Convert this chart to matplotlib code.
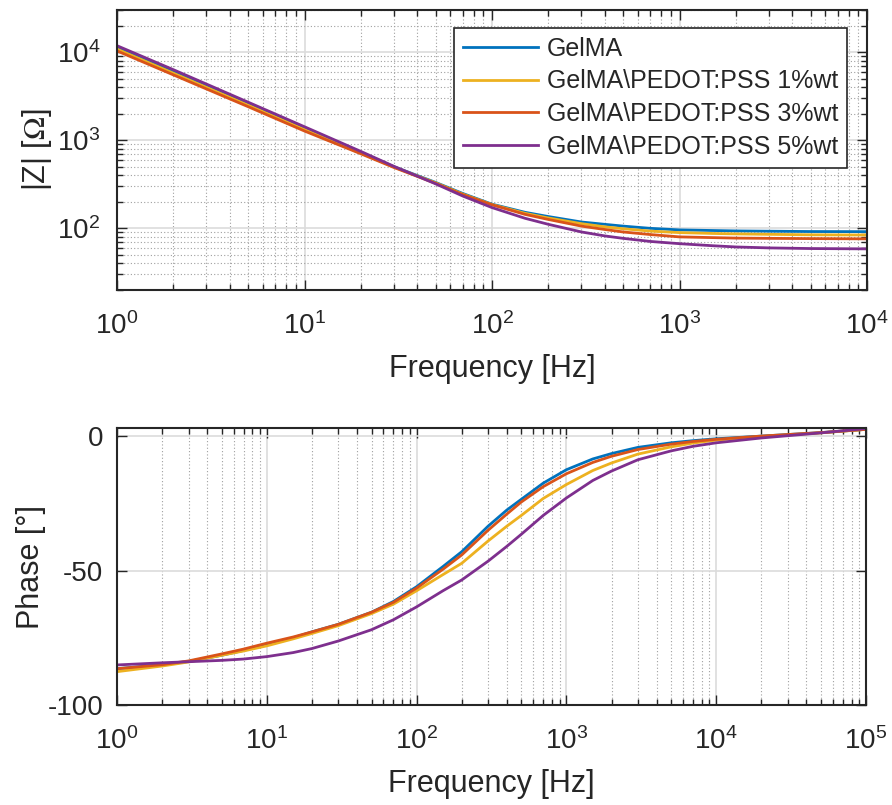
import numpy as np
import matplotlib
matplotlib.use("Agg")
import matplotlib.pyplot as plt
from matplotlib.ticker import LogLocator, NullFormatter, FixedLocator

plt.rcParams["font.family"] = ["Liberation Sans", "DejaVu Sans"]
plt.rcParams["mathtext.fontset"] = "stix"
plt.rcParams["axes.unicode_minus"] = False

# ------------------------------------------------------------
# data
# ------------------------------------------------------------
labels = [
    "GelMA",
    "GelMA\\PEDOT:PSS 1%wt",
    "GelMA\\PEDOT:PSS 3%wt",
    "GelMA\\PEDOT:PSS 5%wt",
]
colors = ["#0072BD", "#EDB120", "#D95319", "#7E2F8E"]

# |Z| vs frequency
f_mag = [1, 2, 5, 10, 20, 30, 50, 70, 100, 150, 200, 300, 400, 500, 700,
         1000, 1500, 2000, 3000, 5000, 10000]
z_gelma = [11200, 5950, 2580, 1360, 725, 500, 332, 248, 188, 152, 136, 118, 111, 106, 100,
           96, 94.5, 93.5, 92.8, 92, 91.7]
z_1wt = [10800, 5750, 2500, 1320, 715, 495, 328, 244, 186, 148, 131, 113, 104, 99, 93,
         89.5, 87.5, 86.5, 85.5, 84.5, 84]
z_3wt = [10300, 5500, 2400, 1270, 700, 490, 324, 241, 185, 144, 126, 106, 97, 91, 85,
         80, 78.5, 77.5, 77, 76.5, 76]
z_5wt = [11800, 6300, 2700, 1420, 745, 505, 320, 232, 172, 130, 111, 91, 82, 77, 71,
         67, 63.5, 61.5, 60, 59, 58.5]

# phase vs frequency
f_ph = [1, 2, 3, 5, 7, 10, 15, 20, 30, 50, 70, 100, 150, 200, 300, 400, 500, 700,
        1000, 1500, 2000, 3000, 5000, 7000, 10000, 20000, 50000, 100000]
ph_gelma = [-86.5, -85.0, -83.8, -81.5, -79.7, -77.5, -75.0, -72.8, -70.0, -65.5, -61.5,
            -56.0, -48.5, -43.0, -33.5, -27.5, -23.5, -17.5, -12.5, -8.5, -6.5, -4.2,
            -2.5, -1.7, -1.0, 0.0, 1.3, 2.5]
ph_1wt = [-87.6, -85.5, -84.0, -81.5, -79.9, -78.0, -75.4, -73.4, -70.5, -66.0, -62.5,
          -57.5, -51.5, -47.3, -39.0, -33.5, -29.5, -23.2, -18.0, -12.8, -10.0, -6.7,
          -4.0, -2.6, -1.5, -0.2, 1.2, 2.5]
ph_3wt = [-86.5, -85.0, -83.6, -81.0, -79.2, -77.0, -74.7, -72.8, -70.0, -65.5, -61.8,
          -56.5, -49.5, -44.2, -35.0, -29.0, -24.5, -18.8, -14.0, -9.8, -7.5, -5.0,
          -3.0, -2.0, -1.2, 0.0, 1.3, 2.5]
ph_5wt = [-85.1, -84.3, -83.9, -83.4, -82.9, -82.0, -80.5, -79.0, -76.2, -72.0, -68.3,
          -63.5, -57.5, -53.5, -46.5, -41.0, -36.5, -29.5, -23.0, -16.5, -13.0, -8.8,
          -5.5, -3.8, -2.5, -0.7, 1.2, 2.8]

z_all = [z_gelma, z_1wt, z_3wt, z_5wt]
ph_all = [ph_gelma, ph_1wt, ph_3wt, ph_5wt]

txt = "#262626"
tick_fs = 20
label_fs = 22


def style_axis(ax, ypad):
    for s in ax.spines.values():
        s.set_color(txt)
        s.set_linewidth(1.5)
    ax.tick_params(which="both", direction="in", top=True, right=True,
                   colors=txt, labelsize=tick_fs, width=1.0)
    ax.tick_params(which="major", length=7)
    ax.tick_params(which="minor", length=4)
    ax.tick_params(axis="x", which="major", pad=16)
    ax.tick_params(axis="y", which="major", pad=ypad)
    ax.grid(True, which="major", color="#dcdcdc", linewidth=1.2, linestyle="-")
    ax.set_axisbelow(True)


fig = plt.figure(figsize=(8.92, 8.05), dpi=100)

# ============================================================
# |Z| plot
# ============================================================
ax1 = fig.add_axes([0.1312, 0.6398, 0.8408, 0.3478])
for y, c, lab in zip(z_all, colors, labels):
    ax1.plot(f_mag, y, color=c, linewidth=2.0, label=lab)
ax1.set_xscale("log")
ax1.set_yscale("log")
ax1.set_xlim(1, 1e4)
ax1.set_ylim(20, 3e4)
ax1.yaxis.set_major_locator(FixedLocator([1e2, 1e3, 1e4]))
ax1.xaxis.set_minor_locator(LogLocator(base=10, subs=np.arange(2, 10)))
ax1.yaxis.set_minor_locator(LogLocator(base=10, subs=np.arange(2, 10)))
ax1.xaxis.set_minor_formatter(NullFormatter())
ax1.yaxis.set_minor_formatter(NullFormatter())
style_axis(ax1, 12)
ax1.grid(True, which="minor", color="#a0a0a0", linewidth=0.8, linestyle=(0, (1, 2)))
ax1.set_xlabel("Frequency [Hz]", fontsize=label_fs, color=txt, labelpad=10)
ax1.set_ylabel(r"|Z| [$\Omega$]", fontsize=label_fs, color=txt, labelpad=2)

leg = ax1.legend(loc="upper right", bbox_to_anchor=(0.9733, 0.9357),
                 borderaxespad=0, fontsize=18, handlelength=3.0,
                 handletextpad=0.35, labelspacing=0.35, borderpad=0.35,
                 fancybox=False, framealpha=1)
leg.get_frame().set_edgecolor(txt)
leg.get_frame().set_linewidth(1.2)
for t in leg.get_texts():
    t.set_color(txt)

# ============================================================
# Phase plot
# ============================================================
ax2 = fig.add_axes([0.1312, 0.1242, 0.8397, 0.3441])
for y, c, lab in zip(ph_all, colors, labels):
    ax2.plot(f_ph, y, color=c, linewidth=2.0, label=lab)
ax2.set_xscale("log")
ax2.set_xlim(1, 1e5)
ax2.set_ylim(-100, 3)
ax2.set_yticks([-100, -50, 0])
ax2.xaxis.set_minor_locator(LogLocator(base=10, subs=np.arange(2, 10)))
ax2.xaxis.set_minor_formatter(NullFormatter())
style_axis(ax2, 10)
ax2.grid(True, which="minor", axis="x", color="#a0a0a0", linewidth=0.8,
         linestyle=(0, (1, 2)))
ax2.set_xlabel("Frequency [Hz]", fontsize=label_fs, color=txt, labelpad=10)
ax2.set_ylabel("Phase [°]", fontsize=label_fs, color=txt, labelpad=1)

fig.savefig("out.png", dpi=100)
